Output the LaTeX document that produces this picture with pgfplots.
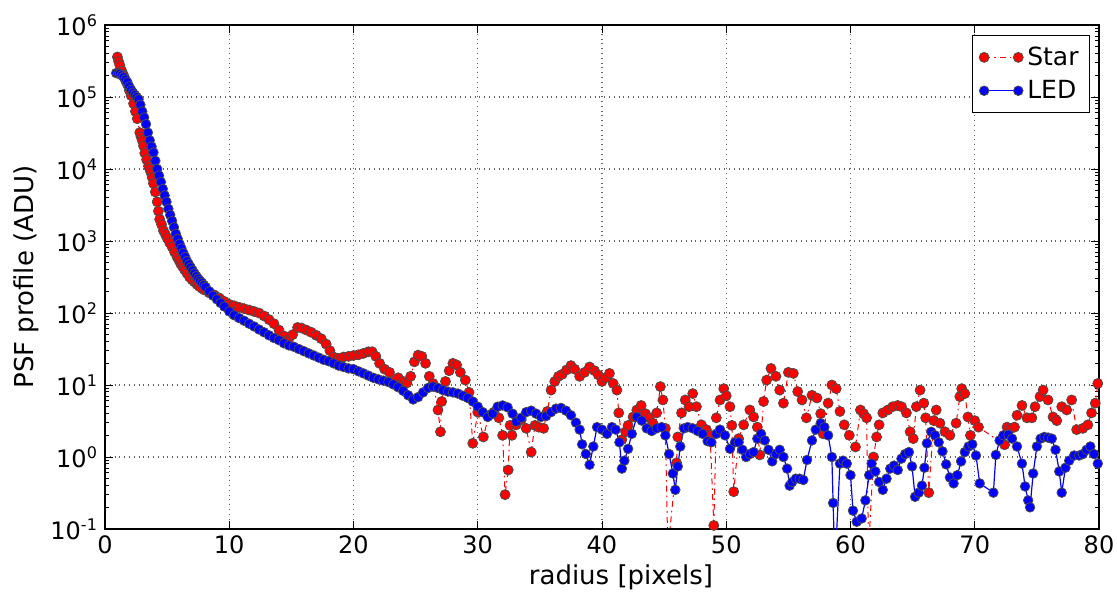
\documentclass[border=0pt]{standalone}
\usepackage{fontspec}
\setmainfont{DejaVu Sans}
\usepackage{pgfplots}
\usepackage{pgfplotstable}
\pgfplotsset{compat=1.18}

\pgfplotstableread{
x y
1.0 3.6e5
1.1 3.1e5
1.2 2.75e5
1.35 2.3e5
1.5 2.0e5
1.65 1.7e5
1.8 1.5e5
1.95 1.25e5
2.1 1.05e5
2.3 8.1e4
2.45 6.3e4
2.6 5.0e4
2.8 3.2e4
2.9 2.8e4
3.0 2.5e4
3.1 2.1e4
3.2 1.66e4
3.35 1.35e4
3.5 1.1e4
3.6 1.0e4
3.7 8.9e3
3.8 7.6e3
3.9 6.3e3
4.05 4.8e3
4.2 3.5e3
4.3 2.6e3
4.4 2.0e3
4.55 1.7e3
4.7 1.4e3
4.85 1.25e3
5.0 1.1e3
5.2 950
5.4 830
5.6 700
5.8 600
5.95 540
6.1 480
6.25 440
6.4 400
6.6 355
6.8 316
7.0 290
7.2 270
7.4 250
7.6 234
7.8 220
8.0 209
8.4 190
8.8 178
9.2 162
9.6 145
10.0 132
10.4 126
10.8 120
11.2 115
11.6 110
12.0 105
12.4 100
12.8 91
13.2 81
13.6 71
14.0 58
14.4 48
14.75 42
15.1 50
15.5 63
15.8 62
16.2 58
16.6 54
17.0 49
17.4 44
17.8 37
18.1 30
18.4 24.5
18.8 23.4
19.2 24.5
19.6 25
20.0 25.7
20.4 26.3
20.8 27.5
21.2 29
21.5 29
21.8 25
22.1 20
22.5 16.6
22.9 15
23.2 11.2
23.6 12.6
24.0 11.2
24.3 10.7
24.6 13.2
24.9 21
25.2 26
25.5 25
25.8 20
26.1 13.2
26.4 10.5
26.8 4.5
27.0 2.24
27.1 5.9
27.4 11.2
27.7 15.8
28.0 20
28.3 19
28.6 15
29.0 11.7
29.3 7.9
29.6 1.55
30.0 4.2
30.45 1.9
30.9 3.8
31.3 4.2
31.7 3.5
32.0 2.0
32.2 0.3
32.45 0.66
32.6 2.75
32.75 2.0
33.1 2.8
33.5 3.3
33.9 2.5
34.3 1.17
34.6 2.75
34.9 2.6
35.3 2.5
35.6 4.3
35.9 8.5
36.2 11.2
36.5 13.2
36.8 14.1
37.15 16.2
37.5 18.6
37.8 16.6
38.2 13.2
38.6 15
39.0 17.8
39.4 15.8
39.7 13.8
40.0 11.2
40.3 12.6
40.6 14.5
40.9 10.5
41.2 8.5
41.35 4.1
41.6 1.74
41.9 2.24
42.1 2.75
42.5 3.6
42.8 4.5
43.15 5.2
43.5 4.0
43.8 3.5
44.1 2.95
44.4 4.1
44.7 9.5
44.9 6.2
45.1 2.5
45.3 0.05
46.0 0.83
46.1 1.9
46.4 4.1
46.7 6.2
47.0 5.0
47.3 7.6
47.6 5.0
48.0 2.8
48.4 2.4
48.7 2.0
49.0 0.112
49.2 3.5
49.5 6.2
49.8 8.9
50.0 7.1
50.3 5.0
50.45 2.75
50.6 0.33
51.0 1.8
51.4 2.8
51.9 4.5
52.2 3.6
52.5 2.6
52.7 1.07
53.0 5.9
53.25 11.7
53.6 17
54.0 13.2
54.3 8.5
54.6 5.6
55.0 15
55.4 14.5
55.75 8.1
56.1 6.2
56.45 3.5
56.9 7.2
57.3 6.6
57.6 4.0
57.8 2.1
58.2 5.6
58.5 10
58.85 8.9
59.15 4.3
59.5 2.8
59.9 2.0
60.4 1.38
60.8 4.5
61.05 4.0
61.3 3.5
61.45 0.05
61.85 1.0
62.1 1.9
62.3 2.8
62.6 4.1
63.0 4.5
63.4 5.0
63.8 5.2
64.1 5.0
64.5 4.1
64.8 2.24
65.05 1.8
65.3 5.0
65.6 8.5
65.9 5.6
66.05 3.5
66.3 0.32
66.7 3.2
66.9 4.5
67.2 2.95
67.6 2.24
68.0 2.0
68.5 2.95
68.8 6.9
68.95 8.9
69.2 7.6
69.45 3.6
69.65 2.0
70.0 3.2
70.3 2.6
72.4 1.48
72.6 2.6
72.9 2.5
73.2 2.6
73.4 3.8
73.8 5.2
74.2 3.5
74.6 3.5
74.85 5.0
75.25 6.9
75.5 8.5
75.9 6.2
76.3 3.6
76.6 3.2
77.0 5.0
77.4 4.5
77.8 6.2
78.2 2.4
78.7 2.5
79.1 2.8
79.4 4.1
79.7 5.6
79.9 10.5
}\starData

\pgfplotstableread{
x y
0.9 2.15e5
1.05 2.12e5
1.2 2.1e5
1.35 2.0e5
1.5 1.9e5
1.65 1.75e5
1.8 1.6e5
1.95 1.4e5
2.1 1.26e5
2.25 1.15e5
2.4 1.07e5
2.55 1.0e5
2.7 9.3e4
2.85 7.8e4
3.0 6.3e4
3.15 5.2e4
3.3 4.2e4
3.45 3.2e4
3.6 2.5e4
3.75 2.05e4
3.9 1.7e4
4.05 1.3e4
4.2 1.0e4
4.35 8.1e3
4.5 6.6e3
4.65 5.3e3
4.8 4.3e3
4.95 3.5e3
5.1 2.8e3
5.25 2.3e3
5.4 1.9e3
5.55 1.55e3
5.7 1.26e3
5.85 1.07e3
6.0 910
6.15 790
6.3 680
6.45 600
6.6 525
6.75 475
6.9 430
7.05 390
7.2 355
7.35 325
7.5 300
7.65 280
7.8 263
7.95 245
8.1 230
8.4 200
8.7 174
9.0 155
9.3 138
9.6 123
10.0 105
10.4 93
10.8 85
11.2 78
11.6 71
12.0 65
12.4 59
12.8 54
13.2 49
13.6 45
14.0 42
14.4 38
14.8 35.5
15.2 34
15.6 31.6
16.0 29.5
16.4 27.5
16.8 25.7
17.2 24
17.6 22.4
18.0 21.4
18.4 20
18.8 18.6
19.2 17.8
19.6 17
20.0 16.6
20.4 15.5
20.8 14.5
21.2 13.5
21.6 12.6
22.0 12
22.4 11.5
22.8 11
23.2 10.2
23.6 9.3
24.0 8.3
24.4 7.2
24.8 6.3
25.2 6.8
25.6 7.9
26.0 9.1
26.4 9.5
26.8 9.1
27.2 8.5
27.6 8.1
28.0 7.9
28.4 7.6
28.8 7.1
29.2 6.6
29.6 5.9
30.0 5.0
30.4 4.2
30.8 3.6
31.2 4.0
31.6 5.0
32.0 5.2
32.4 4.9
32.8 4.0
33.1 3.1
33.5 3.5
33.9 4.2
34.3 4.4
34.7 4.0
35.1 3.6
35.5 3.7
35.9 4.2
36.3 4.7
36.7 4.8
37.1 4.4
37.5 3.8
37.9 3.0
38.2 2.4
38.4 1.5
38.7 1.1
39.0 0.78
39.3 1.4
39.6 2.6
40.0 2.4
40.4 2.1
40.8 2.6
41.1 2.4
41.4 1.6
41.6 0.69
41.8 0.89
42.1 1.3
42.4 2.1
42.8 3.6
43.2 3.2
43.6 2.5
44.0 2.3
44.4 2.5
44.8 2.6
45.1 2.0
45.4 1.1
45.7 0.59
45.9 0.35
46.1 0.74
46.3 1.4
46.6 2.5
46.9 2.6
47.3 2.5
47.7 2.3
48.1 2.1
48.5 1.66
48.8 1.6
49.2 2.1
49.5 2.4
49.9 2.0
50.3 1.3
50.7 1.6
51.0 1.6
51.3 1.26
51.6 1.0
51.9 1.1
52.2 1.17
52.5 1.8
52.8 2.1
53.1 1.7
53.4 1.26
53.7 0.87
54.0 1.1
54.3 1.26
54.6 1.0
54.9 0.69
55.1 0.4
55.3 0.45
55.6 0.5
55.9 0.5
56.2 0.48
56.5 0.91
56.9 1.7
57.2 2.4
57.6 2.95
57.9 2.6
58.2 2.0
58.5 1.0
58.6 0.23
58.75 0.03
59.15 0.81
59.4 0.89
59.7 0.81
60.0 0.56
60.2 0.18
60.5 0.126
60.9 0.14
61.2 0.25
61.5 0.56
61.7 0.81
62.0 0.63
62.3 0.45
62.6 0.35
62.9 0.5
63.2 0.69
63.5 0.76
63.8 0.66
64.1 0.95
64.4 1.1
64.7 1.17
64.95 0.74
65.2 0.28
65.5 0.32
65.75 0.4
65.95 0.71
66.15 1.55
66.5 2.24
66.8 2.0
67.1 1.6
67.4 1.2
67.7 0.79
68.0 0.52
68.3 0.43
68.6 0.56
68.9 0.87
69.2 1.17
69.5 1.4
69.8 1.5
70.1 1.05
70.4 0.43
71.5 0.32
71.7 1.07
72.0 1.7
72.3 2.0
72.7 2.04
73.0 1.8
73.4 1.4
73.8 0.81
74.05 0.39
74.3 0.25
74.45 0.2
74.7 0.59
75.0 1.4
75.3 1.8
75.6 1.9
75.9 1.86
76.2 1.8
76.5 1.26
76.8 0.63
77.0 0.32
77.3 0.71
77.6 0.89
78.0 1.05
78.4 1.05
78.7 1.1
79.0 1.26
79.3 1.4
79.6 1.1
79.9 0.81
}\ledData

\begin{document}
\begin{tikzpicture}
\useasboundingbox (-52.5pt,-31pt) rectangle (506pt,264.5pt);
\begin{axis}[
  at={(0,0)}, anchor=south west,
  scale only axis, width=497pt, height=252pt,
  ymode=log, xmin=0, xmax=80, ymin=0.1, ymax=1e6,
  xtick={0,10,20,30,40,50,60,70,80},
  xticklabels={0,10,20,30,40,50,60,70,80},
  ytick={0.1,1,10,100,1000,10000,100000,1000000},
  yticklabels={10\textsuperscript{-1},10\textsuperscript{0},10\textsuperscript{1},10\textsuperscript{2},10\textsuperscript{3},10\textsuperscript{4},10\textsuperscript{5},10\textsuperscript{6}},
  minor ytick={0.2,0.3,0.4,0.5,0.6,0.7,0.8,0.9,2,3,4,5,6,7,8,9,20,30,40,50,60,70,80,90,200,300,400,500,600,700,800,900,2000,3000,4000,5000,6000,7000,8000,9000,20000,30000,40000,50000,60000,70000,80000,90000,200000,300000,400000,500000,600000,700000,800000,900000},
  grid=major,
  major grid style={dotted, black!60, line width=0.6pt},
  axis line style={black, line width=0.7pt},
  tick style={black, line width=0.5pt},
  major tick length=4pt, minor tick length=2pt,
  tick label style={font=\fontsize{12}{14}\selectfont},
  xlabel={radius [pixels]}, ylabel={PSF profile (ADU)},
  label style={font=\fontsize{13}{15}\selectfont},
  xlabel style={at={(axis description cs:0.519,-0.095)}, anchor=center},
  ylabel style={at={(axis description cs:-0.079,0.5)}, anchor=center},
  legend style={at={(rel axis cs:0.991,0.98)}, anchor=north east, draw=black, line width=0.5pt,
    font=\fontsize{12.5}{14}\selectfont, inner sep=3.5pt, row sep=2pt},
  legend cell align=left,
  legend image code/.code={\draw[#1] plot coordinates {(0cm,0cm) (0.6cm,0cm)};},
]
\addplot[red, line width=0.5pt, dash pattern=on 3pt off 2pt on 0.8pt off 2pt,
  mark=*, mark size=2.5pt, mark options={solid, fill=red, draw=black!70, line width=0.4pt}]
  table[x=x, y=y] {\starData};
\addlegendentry{Star}
\addplot[blue, line width=0.6pt,
  mark=*, mark size=2.4pt, mark options={solid, fill=blue, draw=black!70, line width=0.4pt}]
  table[x=x, y=y] {\ledData};
\addlegendentry{LED}
\end{axis}
\end{tikzpicture}
\end{document}
